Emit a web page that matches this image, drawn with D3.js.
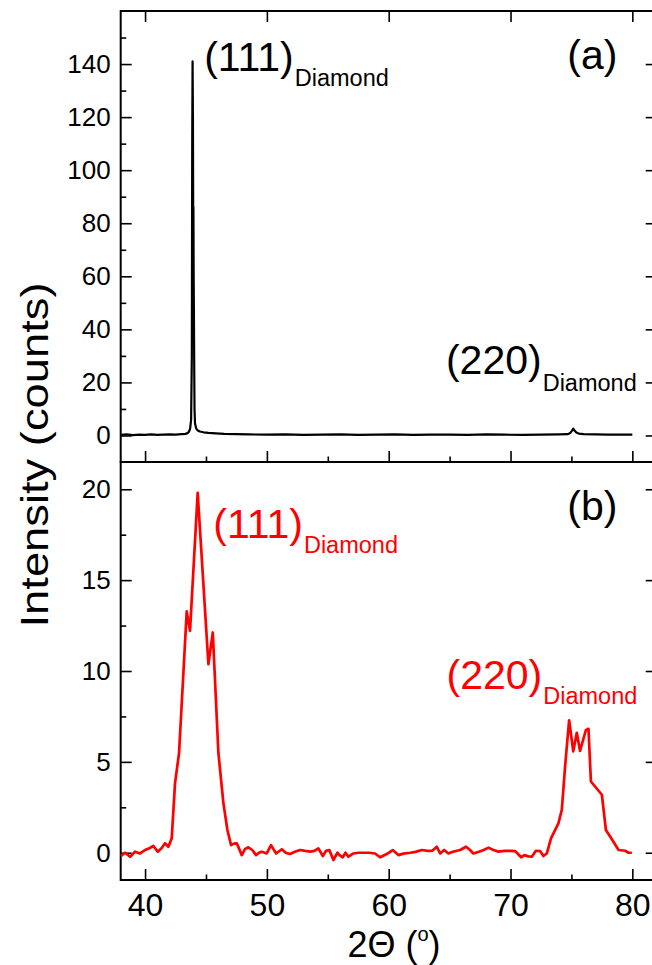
<!DOCTYPE html>
<html>
<head>
<meta charset="utf-8">
<title>XRD - diamond</title>
<script src="https://cdnjs.cloudflare.com/ajax/libs/d3/7.8.5/d3.min.js"></script>
<style>
body { margin: 0; background: #fff; }
svg { display: block; font-family: "Liberation Sans", Arial, sans-serif; }
.frame { fill: none; stroke: #000; stroke-width: 2; }
.tick line { stroke: #000; stroke-width: 1.6; }
.tick text { fill: #000; }
.trace { fill: none; stroke-linejoin: round; }
</style>
</head>
<body>
<div id="chart"></div>
<script>
// panel (a): 2theta / counts
var thetaA = [38.0, 38.5, 39.0, 39.5, 40.0, 40.5, 41.0, 41.5, 42.0, 42.5, 43.0, 43.3, 43.5, 43.6, 43.7,
  43.78, 43.84, 43.87, 43.9, 43.93, 43.95, 43.97, 43.99, 44.01, 44.03, 44.06, 44.1, 44.2, 44.3, 44.5,
  44.8, 45.2, 45.8, 46.5, 47.5, 48.5, 50.0, 51.5, 53.0, 54.5, 56.0, 57.5, 59.0, 60.5, 62.0, 63.5,
  65.0, 66.5, 68.0, 69.5, 71.0, 72.5, 74.0, 74.7, 74.9, 75.05, 75.15, 75.25, 75.4, 75.6, 76.0,
  77.0, 78.0, 79.0, 80.0];
var countsA = [0.2, 0.4, 0.1, 0.3, 0.2, 0.4, 0.2, 0.3, 0.4, 0.3, 0.5, 0.6, 0.9, 1.4, 2.6,
  6, 30, 110, 141, 120, 86, 86, 60, 47, 30, 10, 4.5, 2.6, 2.0, 1.5,
  1.2, 1.0, 0.8, 0.6, 0.5, 0.4, 0.3, 0.4, 0.2, 0.3, 0.4, 0.2, 0.3, 0.4, 0.2, 0.3,
  0.3, 0.2, 0.4, 0.3, 0.2, 0.3, 0.4, 0.5, 0.9, 1.8, 2.6, 1.9, 1.1, 0.7, 0.5,
  0.4, 0.3, 0.3, 0.3];

// panel (b)
var thetaB = [38.03, 38.36, 38.77, 39.18, 39.59, 40.0, 40.35, 40.68, 41.04, 41.35, 41.64, 41.91, 42.19,
  42.46, 42.79, 43.42, 43.69, 44.32, 45.2, 45.56, 46.02, 46.43, 46.76, 47.06, 47.3, 47.53, 47.94,
  48.2, 48.48, 48.8, 49.11, 49.35, 49.58, 49.99, 50.34, 50.76, 51.22, 51.55, 51.9, 52.3, 52.73,
  53.15, 53.55, 53.9, 54.23, 54.59, 54.85, 55.13, 55.46, 55.79, 56.0, 56.23, 56.45, 56.69, 57.1,
  57.5, 57.92, 58.4, 58.88, 59.29, 59.84, 60.33, 60.8, 61.2, 61.76, 62.2, 62.72, 63.2, 63.6, 63.95,
  64.22, 64.55, 64.9, 65.25, 65.59, 65.86, 66.35, 66.68, 66.95, 67.4, 67.8, 68.19, 68.6, 69.01,
  69.5, 70.0, 70.38, 70.52, 70.87, 71.14, 71.45, 71.75, 72.08, 72.43, 72.7, 72.98, 73.33, 73.93,
  74.21, 74.48, 74.81, 75.15, 75.44, 75.71, 76.18, 76.4, 76.6, 77.5, 77.83, 78.32, 78.87, 79.41,
  79.69, 79.96];
var countsB = [-0.18, 0.0, -0.22, 0.06, -0.04, 0.15, 0.25, 0.37, 0.06, 0.25, 0.52, 0.33, 0.8,
  3.83, 5.49, 13.28, 12.21, 19.8, 10.37, 12.12, 5.49, 2.73, 1.25, 0.42, 0.5, 0.52, -0.13,
  0.2, 0.3, 0.15, -0.13, 0.0, 0.06, -0.04, 0.42, -0.04, 0.19, 0.0, -0.07, 0.05, 0.15,
  0.1, 0.06, 0.1, 0.24, -0.18, 0.1, 0.15, -0.4, 0.0, -0.15, -0.25, 0.0, -0.22, -0.04,
  0.0, 0.0, 0.0, -0.04, -0.25, -0.07, 0.15, -0.13, -0.05, 0.0, 0.05, 0.15, 0.1, 0.12, 0.33,
  -0.04, 0.15, -0.04, 0.05, 0.11, 0.15, 0.33, 0.15, -0.04, 0.05, 0.15, 0.28, 0.15, 0.06,
  0.1, 0.1, 0.09, 0.0, -0.25, -0.13, -0.2, -0.22, 0.11, 0.09, -0.18, -0.04, 0.8, 1.62,
  2.36, 4.75, 7.29, 5.58, 6.6, 5.6, 6.74, 6.82, 3.92, 3.19, 1.25, 0.74, 0.15, 0.11,
  0.0, 0.0];

var xTicks = [40, 50, 60, 70, 80];
var xMinor = [45, 55, 65, 75];
var yTicksA = [0, 20, 40, 60, 80, 100, 120, 140];
var yMinorA = [10, 30, 50, 70, 90, 110, 130, 150];
var yTicksB = [0, 5, 10, 15, 20];
var yMinorB = [2.5, 7.5, 12.5, 17.5];

// annotations, in data units of their panel
var notesA = [
  {main: "(111)", sub: "Diamond", t: 44.85, c: 137.2, dy: 15},
  {main: "(220)", sub: "Diamond", t: 64.7, c: 23.0, dy: 17},
  {main: "(a)", sub: "", t: 74.66, c: 138.0}
];
var notesB = [
  {main: "(111)", sub: "Diamond", t: 45.6, c: 17.34, dy: 15},
  {main: "(220)", sub: "Diamond", t: 64.75, c: 9.02, dy: 15},
  {main: "(b)", sub: "", t: 74.66, c: 18.33}
];

var width = 652, height = 965,
  frameL = 120.7, frameR = 656.7,
  aTop = 11, mid = 462, bBot = 880;

var svg = d3.select("#chart").append("svg")
  .attr("width", width)
  .attr("height", height);

var x = d3.scaleLinear().domain([38, 82]).range([frameL, frameR]);
var yA = d3.scaleLinear().domain([-10, 160]).range([mid, aTop]);
var yB = d3.scaleLinear().domain([-1.5, 21.5]).range([bBot, mid]);

function axis(gen, tx, ty, size) {
  var g = svg.append("g")
    .attr("transform", "translate(" + tx + "," + ty + ")")
    .call(gen);
  g.select(".domain").remove();
  g.attr("font-family", null).attr("font-size", size || null);
  return g;
}

// panel (a) axes
axis(d3.axisLeft(yA).tickValues(yTicksA).tickSize(-11).tickPadding(10), frameL, 0, 26);
axis(d3.axisLeft(yA).tickValues(yMinorA).tickSize(-5.5).tickFormat(""), frameL, 0);
axis(d3.axisRight(yA).tickValues(yTicksA).tickSize(-11).tickFormat(""), frameR, 0);
axis(d3.axisTop(x).tickValues(xTicks).tickSize(-11).tickFormat(""), 0, aTop);
axis(d3.axisBottom(x).tickValues(xTicks).tickSize(-11).tickFormat(""), 0, mid);
axis(d3.axisBottom(x).tickValues(xMinor).tickSize(-5.5).tickFormat(""), 0, mid);

// panel (b) axes
axis(d3.axisLeft(yB).tickValues(yTicksB).tickSize(-11).tickPadding(10), frameL, 0, 26);
axis(d3.axisLeft(yB).tickValues(yMinorB).tickSize(-5.5).tickFormat(""), frameL, 0);
axis(d3.axisRight(yB).tickValues(yTicksB).tickSize(-11).tickFormat(""), frameR, 0);
axis(d3.axisBottom(x).tickValues(xTicks).tickSize(-11).tickPadding(13), 0, bBot, 32);
axis(d3.axisBottom(x).tickValues(xMinor).tickSize(-5.5).tickFormat(""), 0, bBot);

svg.append("rect").attr("class", "frame")
  .attr("x", frameL).attr("y", aTop)
  .attr("width", frameR - frameL).attr("height", mid - aTop);
svg.append("rect").attr("class", "frame")
  .attr("x", frameL).attr("y", mid)
  .attr("width", frameR - frameL).attr("height", bBot - mid);

// traces
var lineA = d3.line()
  .x(function(d, i) { return x(thetaA[i]); })
  .y(function(d, i) { return yA(countsA[i]); });
var lineB = d3.line()
  .x(function(d, i) { return x(thetaB[i]); })
  .y(function(d, i) { return yB(countsB[i]); });

svg.append("path").attr("class", "trace")
  .attr("stroke", "#000").attr("stroke-width", 2.2)
  .attr("d", lineA(thetaA));
svg.append("path").attr("class", "trace")
  .attr("stroke", "#ff0000").attr("stroke-width", 2.7)
  .attr("d", lineB(thetaB));

function notes(list, y, color) {
  list.forEach(function(n) {
    var t = svg.append("text")
      .attr("x", x(n.t))
      .attr("y", y(n.c))
      .attr("fill", n.sub ? color : "#000")
      .attr("font-size", 41)
      .text(n.main);
    if (n.sub) {
      t.append("tspan")
        .attr("font-size", 23.5)
        .attr("dx", 1)
        .attr("dy", n.dy)
        .text(n.sub);
    }
  });
}
notes(notesA, yA, "#000");
notes(notesB, yB, "#ff0000");

// axis titles
svg.append("text")
  .attr("transform", "translate(48,455) rotate(-90)")
  .attr("text-anchor", "middle")
  .attr("font-size", 38)
  .attr("textLength", 345)
  .attr("lengthAdjust", "spacingAndGlyphs")
  .text("Intensity (counts)");

var xt = svg.append("text")
  .attr("x", 394)
  .attr("y", 957)
  .attr("text-anchor", "middle")
  .attr("font-size", 36);
xt.append("tspan").text("2\u0398 (");
xt.append("tspan").attr("font-size", 20).attr("dy", -16).text("o");
xt.append("tspan").attr("dy", 16).text(")");
</script>
</body>
</html>
